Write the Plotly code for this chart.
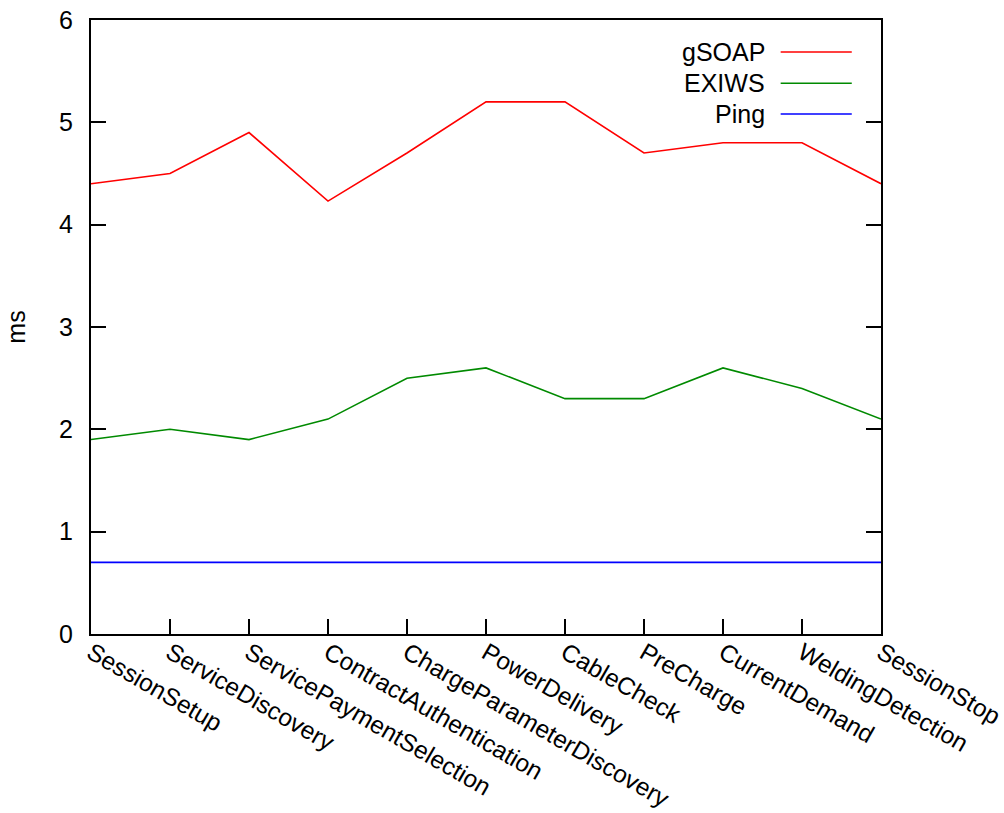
import plotly.graph_objects as go

# Message types of the charging session (x categories)
messages = [
    "SessionSetup", "ServiceDiscovery", "ServicePaymentSelection",
    "ContractAuthentication", "ChargeParameterDiscovery", "PowerDelivery",
    "CableCheck", "PreCharge", "CurrentDemand", "WeldingDetection", "SessionStop",
]

# Round-trip times in milliseconds
gsoap_ms = [4.4, 4.5, 4.9, 4.23, 4.7, 5.2, 5.2, 4.7, 4.8, 4.8, 4.4]
exiws_ms = [1.9, 2.0, 1.9, 2.1, 2.5, 2.6, 2.3, 2.3, 2.6, 2.4, 2.1]
ping_ms = [0.7] * len(messages)

series_names = ["gSOAP", "EXIWS", "Ping"]
series_values = [gsoap_ms, exiws_ms, ping_ms]
series_colors = ["#ff0000", "#008a00", "#0000ff"]

y_ticks = [0, 1, 2, 3, 4, 5, 6]

FONT = "Liberation Sans, Arial, sans-serif"
FSIZE = 25

fig = go.Figure()
for name, vals, col in zip(series_names, series_values, series_colors):
    fig.add_trace(go.Scatter(
        x=messages, y=vals, mode="lines", name=name,
        line=dict(color=col, width=1.6), showlegend=False,
    ))

# Key in the upper-right corner: label on the left, line sample on the right
key_y = [0.948, 0.897, 0.847]
for name, col, ky in zip(series_names, series_colors, key_y):
    fig.add_annotation(
        xref="paper", yref="paper", x=0.856, y=ky, text=name,
        showarrow=False, xanchor="right", yanchor="middle",
        font=dict(family=FONT, size=FSIZE, color="black"),
    )
    fig.add_shape(
        type="line", xref="paper", yref="paper",
        x0=0.873, x1=0.963, y0=ky, y1=ky,
        line=dict(color=col, width=1.6),
    )

fig.update_layout(
    width=1004, height=813,
    margin=dict(l=91, r=123, t=20, b=179, autoexpand=False),
    plot_bgcolor="white", paper_bgcolor="white",
    font=dict(family=FONT, size=FSIZE, color="black"),
)
fig.update_xaxes(
    type="category", range=[0, len(messages) - 1], automargin=False,
    showline=True, linecolor="black", linewidth=2, mirror=True,
    ticks="inside", ticklen=15, tickwidth=1.5, tickcolor="black",
    tickangle=30, showgrid=False, zeroline=False, ticklabelstandoff=-7,
    tickfont=dict(family=FONT, size=24.5),
)
fig.update_yaxes(
    range=[0, 6], tickvals=y_ticks, automargin=False,
    showline=True, linecolor="black", linewidth=2, mirror="ticks",
    ticks="inside", ticklen=15, tickwidth=1.5, tickcolor="black",
    showgrid=False, zeroline=False, ticklabelstandoff=11,
    title=dict(text="ms", font=dict(family=FONT, size=FSIZE), standoff=26),
    tickfont=dict(family=FONT, size=FSIZE),
)

fig.write_html("out.html")
